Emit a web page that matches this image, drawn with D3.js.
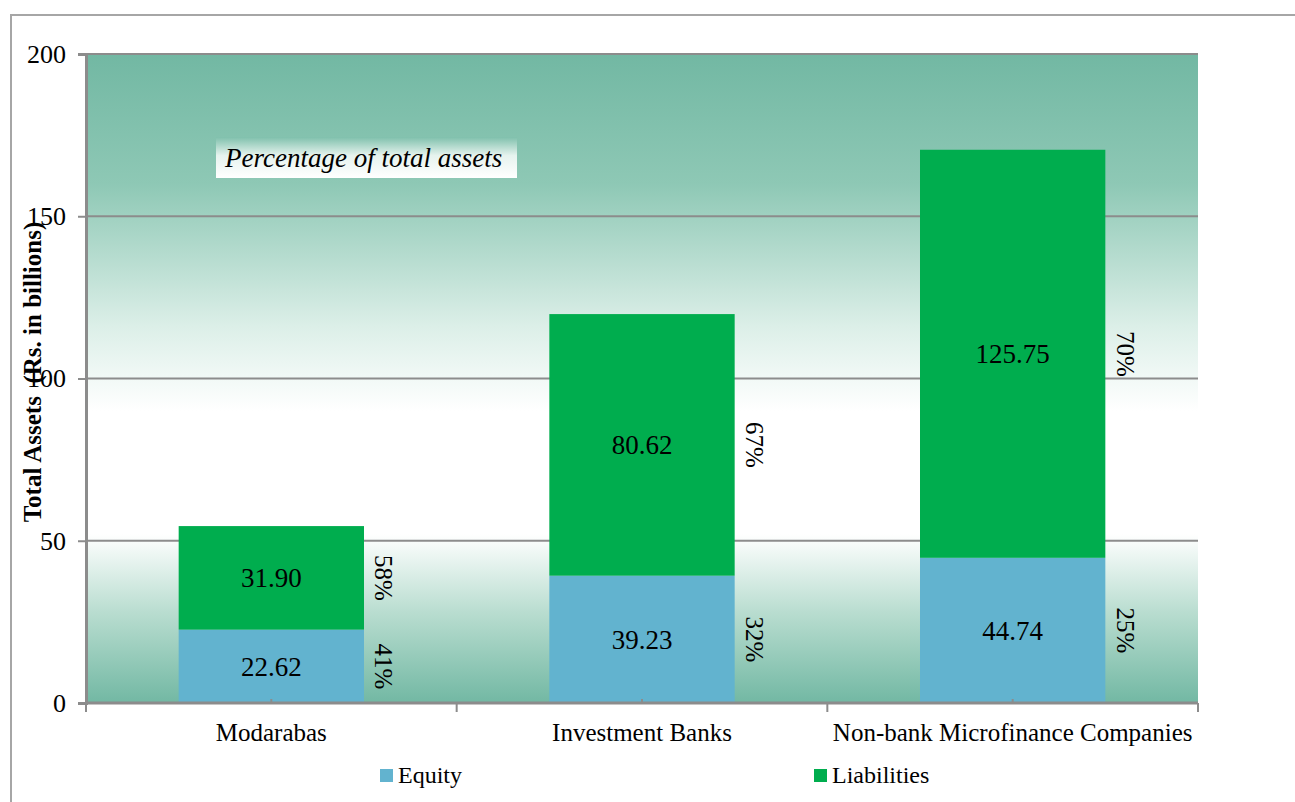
<!DOCTYPE html>
<html><head><meta charset="utf-8">
<script src="https://cdn.jsdelivr.net/npm/d3@7"></script>
<style>body{margin:0;background:#fff}svg{display:block}text{font-family:"Liberation Serif","Times New Roman",serif;fill:#000}</style>
</head><body><svg id="c" width="1295" height="802"></svg>
<script>
const categories = ["Modarabas", "Investment Banks", "Non-bank Microfinance Companies"];
const equity = [22.62, 39.23, 44.74];
const liabilities = [31.90, 80.62, 125.75];
const equityPct = ["41%", "32%", "25%"];
const liabilitiesPct = ["58%", "67%", "70%"];
const seriesNames = ["Equity", "Liabilities"];
const yTicks = [0, 50, 100, 150, 200];

const svg = d3.select("#c");
const m = {l: 86, r: 1198, t: 54, b: 703};
const colors = {Equity: "#62b3cf", Liabilities: "#00ad4e"};

// outer frame
svg.append("rect").attr("x", 11).attr("y", 15).attr("width", 1300).attr("height", 800)
  .attr("fill", "none").attr("stroke", "#a6a6a6").attr("stroke-width", 2);

const defs = svg.append("defs");
const g1 = defs.append("linearGradient").attr("id", "bg").attr("x1", 0).attr("y1", 0).attr("x2", 0).attr("y2", 1);
[[0, "#72b8a3"], [0.2, "#8ec8b5"], [0.42, "#dcefe8"], [0.55, "#ffffff"], [0.74, "#ffffff"], [0.86, "#b9ddd0"], [1, "#72b8a3"]]
  .forEach(([o, c]) => g1.append("stop").attr("offset", o).attr("stop-color", c));
const g2 = defs.append("linearGradient").attr("id", "boxg").attr("x1", 0).attr("y1", 0).attr("x2", 0).attr("y2", 1);
[[0, "#7fc0ac"], [0.45, "#e6f3ee"], [1, "#ffffff"]]
  .forEach(([o, c]) => g2.append("stop").attr("offset", o).attr("stop-color", c));

const x = d3.scaleBand().domain(categories).range([m.l, m.r]).paddingInner(0.5).paddingOuter(0.25);
const xb = d3.scaleBand().domain(categories).range([m.l, m.r]);
const y = d3.scaleLinear().domain([0, 200]).range([m.b, m.t]);

svg.append("rect").attr("x", m.l).attr("y", m.t).attr("width", m.r - m.l).attr("height", m.b - m.t).attr("fill", "url(#bg)");

// gridlines
svg.append("g").selectAll("line").data(yTicks.filter(d => d > 0)).join("line")
  .attr("x1", m.l).attr("x2", m.r).attr("y1", d => y(d)).attr("y2", d => y(d))
  .attr("stroke", "#8c8c8c").attr("stroke-width", 2);

// y axis
const ya = svg.append("g").attr("transform", `translate(${m.l},0)`)
  .call(d3.axisLeft(y).tickValues(yTicks).tickSize(8).tickPadding(12));
ya.select(".domain").attr("stroke", "#8c8c8c").attr("stroke-width", 3);
ya.selectAll(".tick line").attr("stroke", "#8c8c8c").attr("stroke-width", 2);
ya.selectAll(".tick text").attr("font-size", 26).attr("font-family", null).attr("fill", "#000");

// stacked bars
const rows = categories.map((c, i) => ({cat: c, Equity: equity[i], Liabilities: liabilities[i], i}));
const stack = d3.stack().keys(seriesNames)(rows);
const pcts = {Equity: equityPct, Liabilities: liabilitiesPct};
stack.forEach(s => {
  const gg = svg.append("g");
  gg.selectAll("rect").data(s).join("rect")
    .attr("x", d => x(d.data.cat)).attr("width", x.bandwidth())
    .attr("y", d => y(d[1])).attr("height", d => y(d[0]) - y(d[1]))
    .attr("fill", colors[s.key]);
  gg.selectAll("text.v").data(s).join("text").attr("class", "v")
    .attr("x", d => x(d.data.cat) + x.bandwidth() / 2)
    .attr("y", d => y((d[0] + d[1]) / 2)).attr("dy", "0.35em")
    .attr("text-anchor", "middle").attr("font-size", 27)
    .text(d => d3.format(".2f")(d.data[s.key]));
  gg.selectAll("text.p").data(s).join("text").attr("class", "p")
    .attr("transform", d => `translate(${x(d.data.cat) + x.bandwidth() + 20},${y((d[0] + d[1]) / 2)}) rotate(90)`)
    .attr("text-anchor", "middle").attr("dy", "0.35em").attr("font-size", 25)
    .text(d => pcts[s.key][d.data.i]);
});

// x axis
const xa = svg.append("g").attr("transform", `translate(0,${m.b})`);
xa.append("line").attr("x1", m.l).attr("x2", m.r).attr("stroke", "#8c8c8c").attr("stroke-width", 3);
const bounds = categories.map(c => xb(c)).concat([m.r]);
xa.selectAll("line.t").data(bounds).join("line").attr("class", "t")
  .attr("x1", d => d).attr("x2", d => d).attr("y1", 0).attr("y2", 9)
  .attr("stroke", "#8c8c8c").attr("stroke-width", 2);
xa.selectAll("line.c").data(categories).join("line").attr("class", "c")
  .attr("x1", d => x(d) + x.bandwidth() / 2).attr("x2", d => x(d) + x.bandwidth() / 2)
  .attr("y1", 0).attr("y2", -4).attr("stroke", "#8c8c8c").attr("stroke-width", 2);
xa.selectAll("text").data(categories).join("text")
  .attr("x", d => x(d) + x.bandwidth() / 2).attr("y", 38)
  .attr("text-anchor", "middle").attr("font-size", 25).text(d => d);

// y title
svg.append("text").attr("transform", `translate(41,372) rotate(-90)`)
  .attr("text-anchor", "middle").attr("font-size", 25).attr("font-weight", "bold")
  .style("white-space", "pre").text("Total Assets  (Rs. in billions)");

// annotation box
svg.append("rect").attr("x", 216).attr("y", 137).attr("width", 301).attr("height", 41).attr("fill", "url(#boxg)");
svg.append("text").attr("x", 225).attr("y", 167).attr("font-size", 27).attr("font-style", "italic")
  .text("Percentage of total assets");

// legend
const lx = [380, 814];
const lg = svg.append("g").selectAll("g").data(seriesNames).join("g")
  .attr("transform", (d, i) => `translate(${lx[i]},769)`);
lg.append("rect").attr("width", 13).attr("height", 13).attr("fill", d => colors[d]);
lg.append("text").attr("x", 18).attr("y", 14).attr("font-size", 24).text(d => d);
</script></body></html>
